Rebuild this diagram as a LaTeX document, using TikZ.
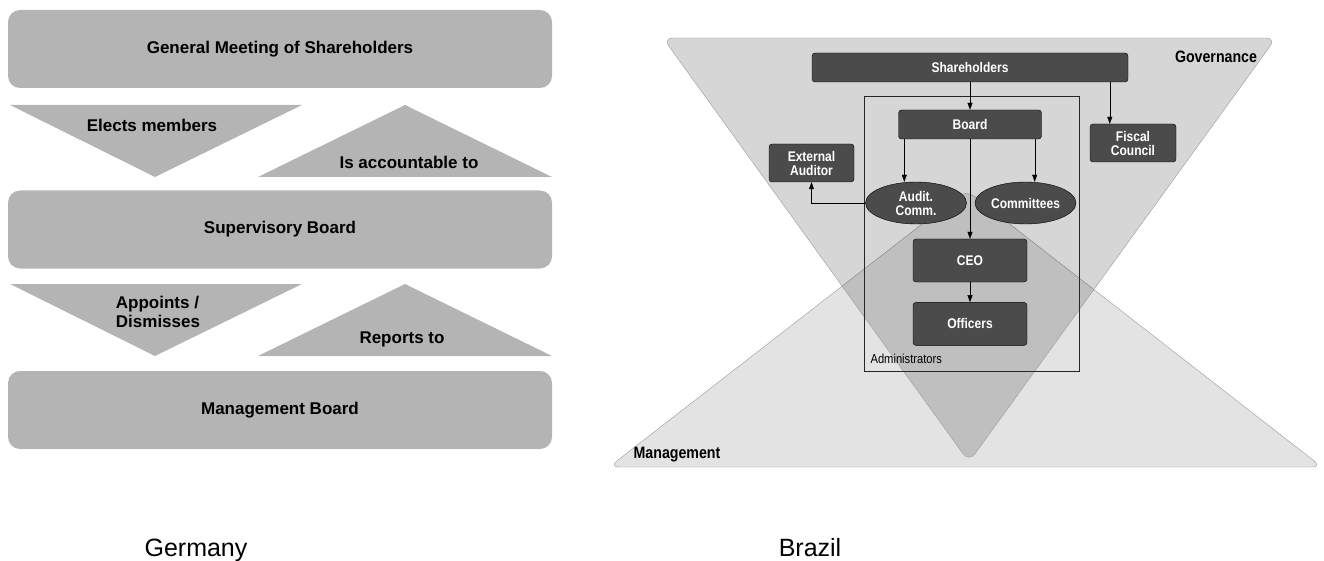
\documentclass[tikz,border=0pt]{standalone}
\usepackage{fontspec}
\setmainfont{Liberation Sans}
\newfontfamily\narrowsans[FakeStretch=0.86]{Liberation Sans}
\usepackage{xcolor}
\usetikzlibrary{shapes.geometric, positioning, arrows.meta}
\definecolor{boxgray}{HTML}{B4B4B4}
\definecolor{darknode}{HTML}{4B4B4B}
\definecolor{edgegray}{HTML}{9A9A9A}

\begin{document}
\begin{tikzpicture}[x=1pt, y=-1pt, >={Triangle[length=7pt,width=5pt]},
    bigbox/.style={fill=boxgray, rounded corners=12pt, minimum width=544pt, minimum height=78pt, font=\fontsize{17}{20}\selectfont\bfseries},
    tri/.style={fill=boxgray},
    trilabel/.style={font=\fontsize{17}{20}\selectfont\bfseries, align=left},
    darkbox/.style={draw=black, fill=darknode, text=white, rounded corners=3pt, align=center, font=\narrowsans\fontsize{14}{14}\selectfont\bfseries},
    darkoval/.style={ellipse, draw=black, fill=darknode, text=white, align=center, minimum width=101pt, minimum height=42pt, inner sep=0pt, font=\narrowsans\fontsize{14}{14}\selectfont\bfseries},
    zone/.style={draw=edgegray, fill=black, rounded corners=10pt},
    zonelabel/.style={font=\narrowsans\fontsize{16.5}{16}\selectfont\bfseries},
    caption/.style={font=\fontsize{25}{25}\selectfont, anchor=base}]
    \useasboundingbox (0,0) rectangle (1324,561);

    % Germany
    \node[bigbox] (gm) at (280,49)  {General Meeting of Shareholders};
    \node[bigbox] (sb) at (280,229.5) {Supervisory Board};
    \node[bigbox] (mb) at (280,410) {Management Board};

    \fill[tri] (10,105) -- (302,105) -- (155,177) -- cycle;
    \fill[tri] (258,177) -- (552,177) -- (405,105) -- cycle;
    \fill[tri] (10,284) -- (302,284) -- (155,356) -- cycle;
    \fill[tri] (258,356) -- (552,356) -- (405,284) -- cycle;

    \node[trilabel] (elects)  at (152,125) {Elects members};
    \node[trilabel] (account) at (409,162) {Is accountable to};
    \node[trilabel] (appoint) at (158,312) {Appoints /\\[-1pt]Dismisses};
    \node[trilabel] (reports) at (402,339) {Reports to};

    % Brazil
    \path[zone, fill opacity=0.11] (609,467) -- (966,190) -- (1322,467) -- cycle;
    \path[zone, fill opacity=0.16] (663,38) -- (1276,38) -- (969,462) -- cycle;

    \node[draw=black!85, line width=0.9pt, minimum width=215pt, minimum height=275pt] (adm) at (971.5,233.5) {};
    \node[anchor=base west, font=\narrowsans\fontsize{13}{13}\selectfont] (admlbl) at (867,363) {Administrators};

    \node[darkbox, minimum width=316pt, minimum height=29pt] (sh)    at (970,67.5)  {Shareholders};
    \node[darkbox, minimum width=143pt, minimum height=29pt] (board) at (970,124.5) {Board};
    \node[darkbox, minimum width=86pt,  minimum height=38pt] (fc)    at (1133,143)  {Fiscal\\Council};
    \node[darkbox, minimum width=85pt,  minimum height=38pt] (ea)    at (811.5,163) {External\\Auditor};
    \node[darkoval] (ac) at (916,203)    {Audit.\\Comm.};
    \node[darkoval] (cm) at (1025.5,203) {Committees};
    \node[darkbox, minimum width=114pt, minimum height=43pt] (ceo) at (970,260.5) {CEO};
    \node[darkbox, minimum width=114pt, minimum height=43pt] (off) [below=20pt of ceo] {Officers};

    \draw[->] (sh.south) -- (board.north);
    \draw[->] ([xshift=20pt]fc.north west |- sh.south) -- ([xshift=20pt]fc.north west);
    \draw[->] ([xshift=6pt]board.south west) -- ([xshift=6pt]board.south west |- ac.north);
    \draw[->] ([xshift=-7pt]board.south east) -- ([xshift=-7pt]board.south east |- cm.north);
    \draw[->] (board.south) -- (ceo.north);
    \draw[->] (ceo.south) -- (off.north);
    \draw[->] (ac.west) -| (ea.south);

    \node[zonelabel] (gov) at (1216,57)  {Governance};
    \node[zonelabel] (mgt) at (677,455)  {Management};

    % captions
    \node[caption] (de) at (196,556) {Germany};
    \node[caption] (br) at (810,556) {Brazil};
\end{tikzpicture}
\end{document}
